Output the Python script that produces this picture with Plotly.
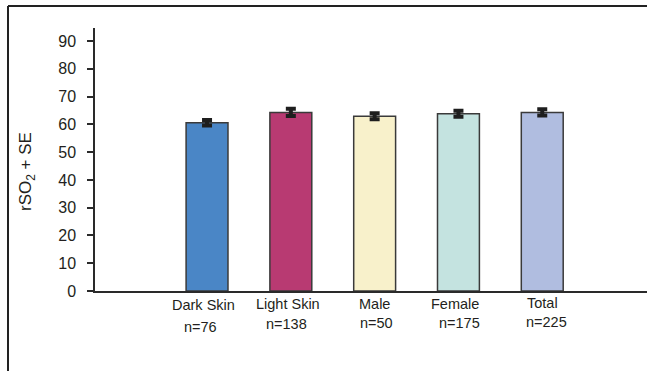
import plotly.graph_objects as go

# Regional oxygen saturation by group
groups = ["Dark Skin", "Light Skin", "Male", "Female", "Total"]
counts = ["n=76", "n=138", "n=50", "n=175", "n=225"]
rso2_mean = [60.6, 64.3, 62.9, 63.8, 64.3]
rso2_se = [1.0, 1.3, 1.1, 1.1, 1.1]
bar_colors = ["#4A86C6", "#B83A72", "#F8F1CB", "#C4E3E0", "#B0BDE0"]
y_ticks = [0, 10, 20, 30, 40, 50, 60, 70, 80, 90]

W, H = 647, 371
L, R, T, B = 95, 0, 28, 80
plot_w = W - L - R
plot_h = H - T - B

TEXT = "#231F20"
FONT = "Liberation Sans, Arial, sans-serif"

xs = list(range(len(groups)))

fig = go.Figure(
    go.Bar(
        x=xs,
        y=rso2_mean,
        width=0.5,
        marker=dict(color=bar_colors, line=dict(color="#3a3a3a", width=1.5)),
        error_y=dict(type="data", array=rso2_se, visible=True,
                     color="#1e1e1e", thickness=4, width=5),
    )
)

def px_x(px):
    return (px - L) / plot_w

def px_y(py):
    return (H - B - py) / plot_h

# category names and sample sizes under each bar (small hand-set offsets in px)
name_dx = [-4, -3, 0, -3, 0]
name_y = [305, 304, 304, 304, 303]
count_dx = [-7, -4, 2, 1, 4]
count_y = [327, 324, 323, 323, 322]

annotations = []
for i in xs:
    annotations.append(dict(x=i, xref="x", y=px_y(name_y[i]), yref="paper",
                            xanchor="center", yanchor="middle",
                            text=groups[i], showarrow=False, xshift=name_dx[i],
                            font=dict(size=14.5, color=TEXT, family=FONT)))
    annotations.append(dict(x=i, xref="x", y=px_y(count_y[i]), yref="paper",
                            xanchor="center", yanchor="middle",
                            text=counts[i], showarrow=False, xshift=count_dx[i],
                            font=dict(size=14.5, color=TEXT, family=FONT)))

annotations.append(dict(x=px_x(27), xref="paper", y=px_y(172), yref="paper",
                        xanchor="center", yanchor="middle",
                        text="rSO<sub>2</sub> + SE", textangle=-90, showarrow=False,
                        font=dict(size=17, color=TEXT, family=FONT)))

# outer frame: top and left edges
shapes = [
    dict(type="line", xref="paper", yref="paper", x0=px_x(8), x1=px_x(W + 2),
         y0=px_y(6), y1=px_y(6), line=dict(color="#222", width=2)),
    dict(type="line", xref="paper", yref="paper", x0=px_x(8), x1=px_x(8),
         y0=px_y(6), y1=px_y(H + 2), line=dict(color="#222", width=2)),
]

fig.update_layout(
    width=W, height=H,
    margin=dict(l=L, r=R, t=T, b=B, pad=0),
    paper_bgcolor="white", plot_bgcolor="white",
    showlegend=False,
    annotations=annotations,
    shapes=shapes,
    font=dict(family=FONT, color=TEXT),
)

fig.update_xaxes(
    range=[-1.337, 5.25], showticklabels=False, ticks="",
    showgrid=False, zeroline=False,
    showline=True, linecolor="#2a2a2a", linewidth=1.5,
)
fig.update_yaxes(
    range=[0, 94.7], tickvals=y_ticks, ticks="outside", ticklen=6,
    tickcolor="#2a2a2a", tickwidth=1.5,
    tickfont=dict(size=16, color=TEXT, family=FONT),
    ticklabelstandoff=8,
    showgrid=False, zeroline=False,
    showline=True, linecolor="#2a2a2a", linewidth=1.5,
)

fig.write_html("out.html")
